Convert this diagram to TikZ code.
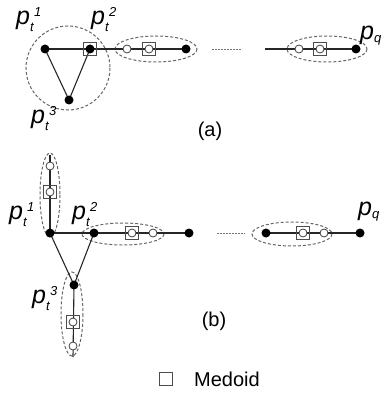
\documentclass[tikz,border=0pt]{standalone}
\usepackage{fontspec}
\setmainfont{Liberation Sans}
\usetikzlibrary{backgrounds}
\newcommand{\ptlab}[1]{{\fontsize{25}{25}\selectfont\itshape p}\raisebox{-7pt}{\fontsize{13}{13}\selectfont\itshape t}\hspace{0.5pt}\raisebox{8pt}{\fontsize{13}{13}\selectfont\itshape #1}}
\newcommand{\pqlab}{{\fontsize{25}{25}\selectfont\itshape p}\raisebox{-3pt}{\fontsize{13}{13}\selectfont\itshape q}}
\tikzset{
 dot/.style={circle,fill=black,inner sep=0pt,minimum size=9pt},
 odot/.style={circle,draw=black!75,fill=white,inner sep=0pt,minimum size=8pt,line width=0.8pt},
 med/.style={rectangle,draw=black!70,line width=0.9pt,inner sep=0pt,minimum size=13pt},
 grp/.style={draw=black!60,dash pattern=on 3pt off 2pt,line width=1pt},
 edge/.style={line width=1.1pt,black!85},
 gap/.style={line width=0.8pt,black!55,dash pattern=on 2pt off 1pt},
 lbl/.style={inner sep=0pt,anchor=base west},
 captxt/.style={font=\fontsize{20}{20}\selectfont,inner sep=0pt},
}
\begin{document}
\begin{tikzpicture}[x=1pt,y=-1pt]
\useasboundingbox (0,0) rectangle (385,393);
% ---------- (a) ----------
\node[dot] (a1) at (45,49) {};
\node[dot] (a2) at (90,49) {};
\node[dot] (a3) at (69,100) {};
\node[med] (a2m) at (90,49) {};
\node[odot] (ac1) at (127,49) {};
\node[med] (am1) at (149,49) {};
\node[odot] (am1c) at (149,49) {};
\node[dot] (ae1) at (186,49) {};
\coordinate (ag1) at (212,49);
\coordinate (ag2) at (242,49);
\coordinate (as2) at (265,49);
\node[odot] (ac2) at (299,49) {};
\node[med] (am2) at (320,49) {};
\node[odot] (am2c) at (320,49) {};
\node[dot] (aq) at (356,49) {};
\node[lbl] (la1) at (16,25) {\ptlab{1}};
\node[lbl] (la2) at (91,25) {\ptlab{2}};
\node[lbl] (la3) at (31,123) {\ptlab{3}};
\node[lbl] (laq) at (360,40) {\pqlab};
\node[captxt] (capa) at (210,131) {(a)};
% ---------- (b) ----------
\node[dot] (b1) at (50,233) {};
\node[dot] (b2) at (94,233) {};
\node[dot] (b3) at (74,285) {};
\node[med] (bu1) at (50,192) {};
\node[odot] (bu1c) at (50,192) {};
\node[odot] (bu2) at (50,166) {};
\coordinate (bu3) at (50,155);
\node[med] (bm1) at (132,233) {};
\node[odot] (bm1c) at (132,233) {};
\node[odot] (bc1) at (153,233) {};
\node[dot] (be1) at (189,233) {};
\coordinate (bg1) at (217,233);
\coordinate (bg2) at (245,233);
\node[dot] (bs2) at (266,233) {};
\node[med] (bm2) at (303,233) {};
\node[odot] (bm2c) at (303,233) {};
\node[odot] (bc2) at (324,233) {};
\node[dot] (bq) at (360,233) {};
\node[med] (bd1) at (73,322) {};
\node[odot] (bd1c) at (73,322) {};
\node[odot] (bd2) at (73,346) {};
\coordinate (bd3) at (73,357);
\node[lbl] (lb1) at (9,219) {\ptlab{1}};
\node[lbl] (lb2) at (72,219) {\ptlab{2}};
\node[lbl] (lb3) at (32,303) {\ptlab{3}};
\node[lbl] (lbq) at (358,215) {\pqlab};
\node[captxt] (capb) at (214,321) {(b)};
% ---------- legend ----------
\node[med] (leg) at (166,379) {};
\node[captxt,anchor=west] (legt) at (194,379) {Medoid};
% ---------- groups and connectors behind the nodes ----------
\begin{scope}[on background layer]
\draw[grp] (68,68) circle (42);
\draw[grp] (156,49) ellipse (41 and 13);
\draw[grp] (327,49) ellipse (40 and 13);
\draw[grp] (50,195) ellipse (10 and 42);
\draw[grp] (123,234) ellipse (41 and 11);
\draw[grp] (292,234) ellipse (40 and 12);
\draw[grp] (72,314) ellipse (11 and 42);
\draw[edge] (a1.center) -- (a2.center) -- (ae1.center);
\draw[edge] (a1.center) -- (a3.center) -- (a2.center);
\draw[gap] (ag1) -- (ag2);
\draw[edge] (as2) -- (aq.center);
\draw[edge] (b1.center) -- (bu3);
\draw[edge] (b1.center) -- (be1.center);
\draw[edge] (b1.center) -- (b3.center) -- (b2.center);
\draw[edge] (b3.center) -- (bd3);
\draw[gap] (bg1) -- (bg2);
\draw[edge] (bs2.center) -- (bq.center);
\end{scope}
\end{tikzpicture}
\end{document}
